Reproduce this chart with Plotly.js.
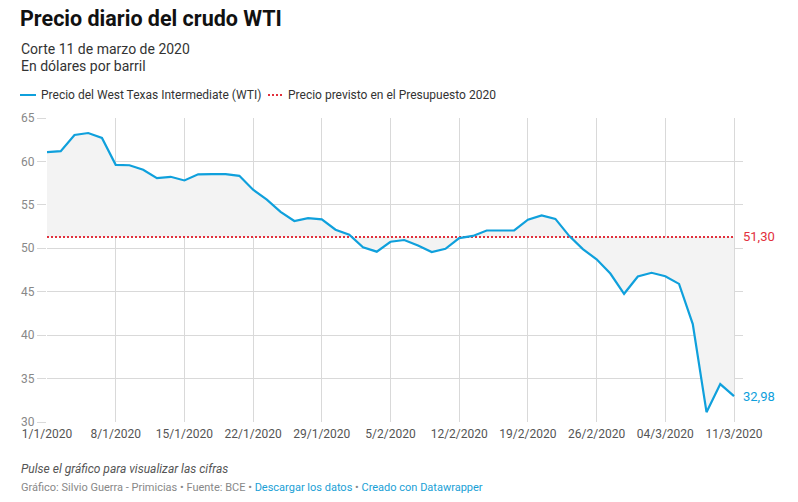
<!DOCTYPE html>
<html><head><meta charset="utf-8">
<script src="https://cdn.plot.ly/plotly-3.0.1.min.js"></script>
<style>html,body{margin:0;padding:0;background:#fff}#chart{width:798px;height:502px}</style>
</head><body><div id="chart"></div>
<script>
// ---- data ----
const dates = ["1/1/2020","2/1/2020","3/1/2020","6/1/2020","7/1/2020","8/1/2020","9/1/2020","10/1/2020","13/1/2020","14/1/2020","15/1/2020","16/1/2020","17/1/2020","20/1/2020","21/1/2020","22/1/2020","23/1/2020","24/1/2020","27/1/2020","28/1/2020","29/1/2020","30/1/2020","31/1/2020","3/2/2020","4/2/2020","5/2/2020","6/2/2020","7/2/2020","10/2/2020","11/2/2020","12/2/2020","13/2/2020","14/2/2020","17/2/2020","18/2/2020","19/2/2020","20/2/2020","21/2/2020","24/2/2020","25/2/2020","26/2/2020","27/2/2020","28/2/2020","2/3/2020","3/3/2020","4/3/2020","5/3/2020","6/3/2020","9/3/2020","10/3/2020","11/3/2020"];
const wtiPrice = [61.06,61.18,63.05,63.27,62.70,59.61,59.56,59.04,58.08,58.23,57.81,58.52,58.54,58.54,58.34,56.74,55.59,54.19,53.14,53.48,53.33,52.14,51.56,
  50.11,49.61,50.75,50.95,50.32,49.57,49.94,51.17,51.42,52.05,52.05,52.05,53.29,53.78,53.38,51.43,49.90,48.73,47.09,44.76,
  46.75,47.18,46.78,45.90,41.28,31.13,34.36,32.98];
const budgetPrice = 51.30;
const tickDates = ["1/1/2020","8/1/2020","15/1/2020","22/1/2020","29/1/2020","5/2/2020","12/2/2020","19/2/2020","26/2/2020","4/3/2020","11/3/2020"];
const tickLabels = ["1/1/2020","8/1/2020","15/1/2020","22/1/2020","29/1/2020","5/2/2020","12/2/2020","19/2/2020","26/2/2020","04/3/2020","11/3/2020"];
const seriesNames = ["Precio del West Texas Intermediate (WTI)","Precio previsto en el Presupuesto 2020"];

// ---- styles ----
const BLUE = '#0fa0dc', RED = '#e2303c', FILL = '#f3f3f3', GRID = '#d9d9d9';
const FONT = 'Roboto, "Noto Sans", Arial, sans-serif';
const W = 798, H = 502, M = {l:47, r:55, t:118, b:80};
const pw = W - M.l - M.r, ph = H - M.t - M.b;
const px = x => (x - M.l) / pw, py = y => (H - M.b - y) / ph;
const fmt = v => v.toFixed(2).replace('.', ',');
const budgetLine = dates.map(() => budgetPrice);

const traces = [
  {x: dates, y: budgetLine, type: 'scatter', mode: 'lines', line: {width: 0, color: 'rgba(0,0,0,0)'}, hoverinfo: 'skip', showlegend: false},
  {x: dates, y: wtiPrice, type: 'scatter', mode: 'lines', fill: 'tonexty', fillcolor: FILL, line: {width: 0, color: 'rgba(0,0,0,0)'}, hoverinfo: 'skip', showlegend: false},
  {x: dates, y: budgetLine, type: 'scatter', mode: 'lines', name: seriesNames[1], line: {color: RED, width: 2, dash: '2px,2px'}, showlegend: false},
  {x: dates, y: wtiPrice, type: 'scatter', mode: 'lines', name: seriesNames[0], line: {color: BLUE, width: 2.2}, showlegend: false}
];

const last = wtiPrice.length - 1;
const annotations = [
  {text: 'Corte 11 de marzo de 2020', xref: 'paper', yref: 'paper', x: px(19), y: py(49), xanchor: 'left', yanchor: 'middle', showarrow: false, font: {family: FONT, size: 14, color: '#333'}},
  {text: 'En dólares por barril', xref: 'paper', yref: 'paper', x: px(19), y: py(65.5), xanchor: 'left', yanchor: 'middle', showarrow: false, font: {family: FONT, size: 14, color: '#333'}},
  {text: seriesNames[0], xref: 'paper', yref: 'paper', x: px(39), y: py(95), xanchor: 'left', yanchor: 'middle', showarrow: false, font: {family: FONT, size: 12, color: '#333'}},
  {text: seriesNames[1], xref: 'paper', yref: 'paper', x: px(286), y: py(95), xanchor: 'left', yanchor: 'middle', showarrow: false, font: {family: FONT, size: 12, color: '#333'}},
  {text: fmt(budgetPrice), xref: 'x', yref: 'y', x: dates[last], y: budgetPrice, xanchor: 'left', yanchor: 'middle', xshift: 7, showarrow: false, font: {family: FONT, size: 13, color: RED}},
  {text: fmt(wtiPrice[last]), xref: 'x', yref: 'y', x: dates[last], y: wtiPrice[last], xanchor: 'left', yanchor: 'middle', xshift: 7, showarrow: false, font: {family: FONT, size: 13, color: BLUE}},
  {text: '<i>Pulse el gráfico para visualizar las cifras</i>', xref: 'paper', yref: 'paper', x: px(19), y: py(469), xanchor: 'left', yanchor: 'middle', showarrow: false, font: {family: FONT, size: 12, color: '#555'}},
  {text: 'Gráfico: Silvio Guerra - Primicias • Fuente: BCE • <span style="color:#1a9fd6">Descargar los datos</span> • <span style="color:#1a9fd6">Creado con Datawrapper</span>', xref: 'paper', yref: 'paper', x: px(19), y: py(487.5), xanchor: 'left', yanchor: 'middle', showarrow: false, font: {family: FONT, size: 11, color: '#888'}}
];

const shapes = [
  {type: 'line', xref: 'paper', yref: 'paper', x0: px(20), x1: px(36), y0: py(95), y1: py(95), line: {color: BLUE, width: 2}},
  {type: 'line', xref: 'paper', yref: 'paper', x0: px(268), x1: px(284), y0: py(95), y1: py(95), line: {color: RED, width: 2, dash: '2px,2px'}}
];

const layout = {
  width: W, height: H,
  margin: M,
  paper_bgcolor: '#fff', plot_bgcolor: '#fff',
  font: {family: FONT},
  showlegend: false,
  title: {text: '<b>Precio diario del crudo WTI</b>', xref: 'container', yref: 'container', x: 20 / W, xanchor: 'left', y: 1 - 18 / H, yanchor: 'middle', font: {family: FONT, size: 21.5, color: '#111'}},
  xaxis: {
    type: 'category', range: [0, last + 9 / (687 / last)],
    tickmode: 'array', tickvals: tickDates, ticktext: tickLabels,
    showgrid: true, gridcolor: GRID, gridwidth: 1, zeroline: false, showline: false,
    ticks: '', ticklabelstandoff: 3, tickfont: {family: FONT, size: 12, color: '#555'}, fixedrange: true
  },
  yaxis: {
    range: [30, 65], dtick: 5, tick0: 30,
    showgrid: true, gridcolor: GRID, gridwidth: 1, zeroline: false, showline: false,
    ticks: 'outside', ticklen: 9, tickcolor: GRID, tickwidth: 1,
    tickfont: {family: FONT, size: 12, color: '#888'}, fixedrange: true
  },
  annotations: annotations,
  shapes: shapes
};

Plotly.newPlot('chart', traces, layout, {displayModeBar: false, staticPlot: true});
</script>
</body></html>
